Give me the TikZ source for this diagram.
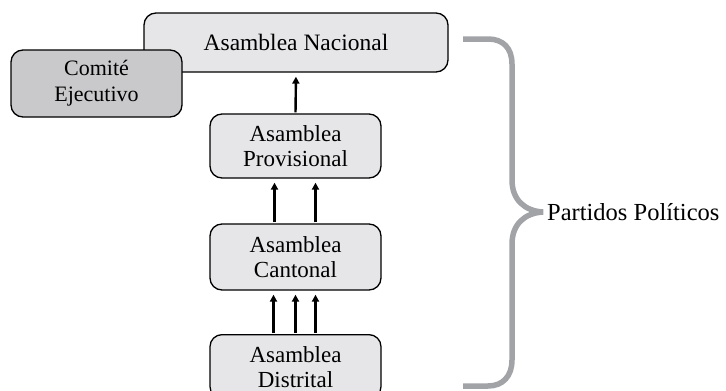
\documentclass[tikz,border=0pt]{standalone}
\usepackage{fontspec}
\setmainfont{Liberation Serif}
\usetikzlibrary{arrows.meta}
\definecolor{boxfill}{HTML}{E6E6E8}
\definecolor{darkfill}{HTML}{C9C9CB}
\definecolor{bracegray}{HTML}{A2A3A7}
\begin{document}
\begin{tikzpicture}[x=1pt,y=-1pt,
  box/.style={draw=black, line width=1.3pt, rounded corners=12pt, fill=boxfill,
    align=center, inner sep=0pt, minimum width=171pt,
    font=\fontsize{23}{25}\selectfont},
  uparrow/.style={line width=2.4pt, -{Triangle[length=7pt,width=7pt]}, shorten >=4pt, shorten <=1pt}]
\useasboundingbox (0,0) rectangle (726,391);
\clip (0,0) rectangle (726,391);
\node[box, minimum width=304pt, minimum height=59pt, font=\fontsize{23.5}{25}\selectfont] (nac) at (296,42.5) {Asamblea Nacional};
\node[box, fill=darkfill, minimum height=67pt, font=\fontsize{22}{26}\selectfont] (com) at (96.5,83.5) {Comité\\Ejecutivo};
\node[box, minimum height=64pt] (prov) at (295.5,146) {Asamblea\\Provisional};
\node[box, minimum height=66pt] (cant) at (295.5,257) {Asamblea\\Cantonal};
\node[box, minimum height=64pt, anchor=north] (dist) at (295.5,334) {Asamblea\\Distrital};
\draw[uparrow] (prov.north) -- (nac.south);
\draw[uparrow] ([xshift=-21pt]cant.north) -- ([xshift=-21pt]prov.south);
\draw[uparrow] ([xshift=20pt]cant.north) -- ([xshift=20pt]prov.south);
\draw[uparrow] ([xshift=-22pt]dist.north) -- ([xshift=-22pt]cant.south);
\draw[uparrow] (dist.north) -- (cant.south);
\draw[uparrow] ([xshift=20pt]dist.north) -- ([xshift=20pt]cant.south);
\coordinate (btop) at (463,39);
\coordinate (bbot) at (463,386);
\draw[bracegray, line width=5.5pt] (btop) -- (488,39) .. controls (503,39) and (512,48) .. (512,64) -- (512,180) .. controls (512,200) and (525,211) .. (543,212) .. controls (525,213) and (512,224) .. (512,244) -- (512,360) .. controls (512,376) and (503,386) .. (488,386) -- (bbot);
\node[anchor=west, inner sep=0pt, font=\fontsize{24.5}{25}\selectfont] (pp) at (547,212) {Partidos Políticos};
\end{tikzpicture}
\end{document}
